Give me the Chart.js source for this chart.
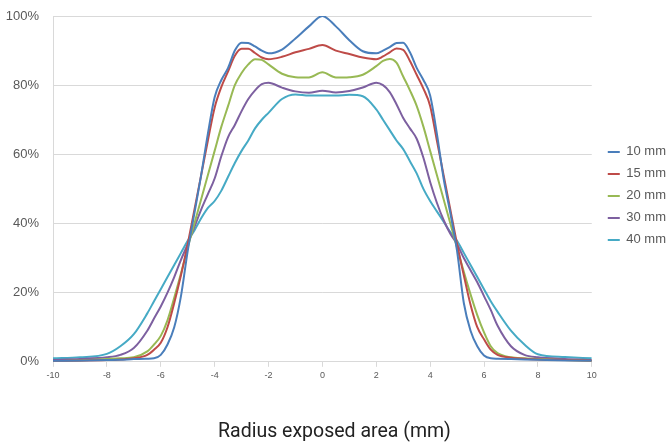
<!DOCTYPE html>
<html>
<head>
<meta charset="utf-8">
<script src="https://cdn.jsdelivr.net/npm/chart.js@4.4.1/dist/chart.umd.min.js"></script>
<style>
  html, body { margin: 0; padding: 0; background: #ffffff; }
  #wrap { width: 669px; height: 446px; position: relative; }
</style>
</head>
<body>
<div id="wrap"><canvas id="profileChart"></canvas></div>
<script>
// Radius positions (mm)
const radius = [-10, -9, -8, -7.5, -7, -6.5, -6.25, -6, -5.75, -5.5, -5.25, -5, -4.75, -4.5, -4.25, -4,
    -3.75, -3.5, -3.25, -3, -2.75, -2.5, -2.25, -2, -1.5, -1, -0.5, 0, 0.5, 1, 1.5, 2, 2.25, 2.5, 2.75,
    3, 3.25, 3.5, 3.75, 4, 4.25, 4.5, 4.75, 5, 5.25, 5.5, 5.75, 6, 6.25, 6.5, 7, 7.5, 8, 9, 10];

const seriesLabels = ['10 mm', '15 mm', '20 mm', '30 mm', '40 mm'];

// Relative dose (%) per field size
const field10 = [0.2, 0.3, 0.5, 0.6, 0.8, 0.9, 1.0, 2, 5, 10, 19, 32, 43, 54, 66, 76.5,
    81.5, 85, 90, 92.3, 92.2, 91.2, 90, 89.2, 90.3, 93.5, 97, 100, 97, 93, 89.8, 89.2, 90, 91, 92.2,
    92.3, 89.5, 85, 81.5, 77, 66, 53, 43, 32, 17, 9, 4.5, 1.8, 1.0, 0.9, 0.8, 0.7, 0.6, 0.4, 0.3];

const field15 = [0.2, 0.3, 0.5, 0.7, 1.0, 2.0, 3.5, 5.5, 10, 17, 25, 34, 44, 54, 64, 73.5,
    79.5, 84, 88.5, 90.5, 90.5, 89.3, 88, 87.5, 88.2, 89.5, 90.5, 91.6, 90, 89, 88, 87.5, 88.3, 89.5, 90.6,
    90.2, 87, 83, 79, 74, 64, 54, 44, 34, 25, 16.5, 10, 6.5, 3.5, 2, 1.2, 0.9, 0.7, 0.5, 0.3];

const field20 = [0.1, 0.4, 0.8, 1.0, 1.3, 3, 5, 7.5, 12, 18.5, 25.5, 33, 40, 47, 54, 61,
    68, 74, 80, 83.5, 86, 87.5, 87.3, 86, 83.3, 82.3, 82.2, 83.7, 82.2, 82.3, 83, 85.5, 87, 87.6, 86.5,
    82.5, 78.5, 74, 68, 61, 54, 47, 40, 33, 26, 19.5, 13.5, 8.5, 4.5, 2.5, 1.3, 1.0, 0.8, 0.5, 0.2];

const field30 = [0.5, 0.8, 1.3, 2, 4, 9, 12.5, 16, 20, 24.5, 29.5, 34, 39, 44, 48.5, 53,
    59.5, 65, 68.5, 72.5, 76, 78.5, 80.3, 80.7, 79.3, 78.2, 77.8, 78.4, 77.9, 78.3, 79.3, 80.7, 80, 78, 74.5,
    70.5, 67.5, 64.5, 59, 52, 46, 41, 37, 34, 30, 26.5, 23, 19, 15, 10.5, 4.5, 2, 1.3, 0.8, 0.5];

const field40 = [1, 1.3, 2.3, 4.5, 8, 14, 17.5, 21, 24.5, 28, 31.5, 35, 38, 41.5, 44.5, 46.5,
    49.5, 53.5, 57.5, 61, 64, 67.5, 70, 72, 76, 77.3, 77, 77, 77, 77.2, 76.8, 73, 70, 67, 64,
    61.5, 58, 54.5, 50, 46.5, 43.5, 40.5, 37.5, 35, 31.5, 28, 24.5, 21, 17.5, 14.5, 9, 5, 2.2, 1.4, 1];

const xTicks = [-10, -8, -6, -4, -2, 0, 2, 4, 6, 8, 10];
const yTicks = [0, 20, 40, 60, 80, 100];

const lineColors = ['#4A7EBB', '#BE4B48', '#98B954', '#7D60A0', '#46AAC5'];

function toPoints(values) {
    return radius.map(function(r, i) { return { x: r, y: values[i] }; });
}

const allSeries = [field10, field15, field20, field30, field40];

// Push the legend a bit right of the plot and a little lower
const legendShift = {
    id: 'legendShift',
    afterLayout: function(chart) {
        chart.legend.left += 7;
        chart.legend.right += 7;
        chart.legend.top += 7;
        chart.legend.bottom += 7;
    }
};

const ctx = document.getElementById('profileChart');

new Chart(ctx, {
    type: 'line',
    data: {
        datasets: allSeries.map(function(vals, i) {
            return {
                label: seriesLabels[i],
                data: toPoints(vals),
                borderColor: lineColors[i],
                backgroundColor: lineColors[i],
                borderWidth: 2,
                pointRadius: 0,
                fill: false,
                cubicInterpolationMode: 'monotone'
            };
        })
    },
    plugins: [legendShift],
    options: {
        responsive: true,
        maintainAspectRatio: false,
        animation: false,
        layout: {
            padding: { left: 0, right: 0, top: 16, bottom: 0 }
        },
        plugins: {
            legend: {
                position: 'right',
                fullSize: false,
                labels: {
                    usePointStyle: true,
                    pointStyle: 'line',
                    pointStyleWidth: 12,
                    padding: 9,
                    color: '#595959',
                    font: { family: 'Liberation Sans', size: 13 }
                }
            },
            title: {
                display: true,
                position: 'bottom',
                text: 'Radius exposed area (mm)',
                color: '#222222',
                font: { family: 'Roboto', size: 19.5, weight: 'normal' },
                padding: { top: 37, bottom: 2 }
            },
            tooltip: { enabled: false }
        },
        scales: {
            x: {
                type: 'linear',
                min: -10,
                max: 10,
                afterBuildTicks: function(axis) {
                    axis.ticks = xTicks.map(function(v) { return { value: v }; });
                },
                grid: {
                    drawOnChartArea: false,
                    drawTicks: true,
                    tickLength: 5,
                    color: '#D9D9D9'
                },
                border: { display: true, color: '#D9D9D9' },
                ticks: {
                    color: '#595959',
                    padding: 3,
                    maxRotation: 0,
                    font: { family: 'Liberation Sans', size: 9 }
                }
            },
            y: {
                min: 0,
                max: 100,
                afterBuildTicks: function(axis) {
                    axis.ticks = yTicks.map(function(v) { return { value: v }; });
                },
                afterFit: function(axis) {
                    axis.width = 53;
                    axis.paddingTop = 0;
                },
                grid: {
                    color: '#D9D9D9',
                    drawTicks: false
                },
                border: { display: true, color: '#D9D9D9' },
                ticks: {
                    color: '#595959',
                    padding: 14,
                    font: { family: 'Liberation Sans', size: 13 },
                    callback: function(value) {
                        return value + '%';
                    }
                }
            }
        }
    }
});
</script>
</body>
</html>
